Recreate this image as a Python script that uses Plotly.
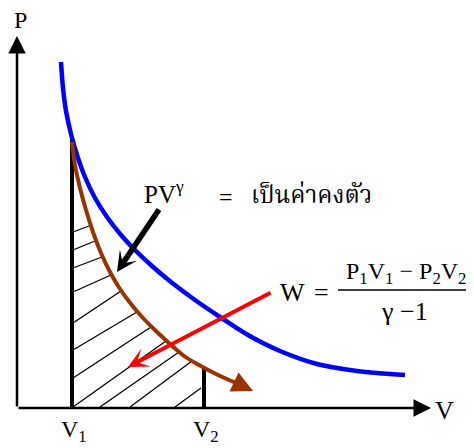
import plotly.graph_objects as go

# diagram, in picture pixels (y grows downward)
blue_x = [61, 63, 66, 71, 77, 85, 95, 107, 121, 136, 152, 171, 195, 220, 248, 280, 317, 357, 405]
blue_y = [62, 88, 111, 134, 155, 177, 198, 217, 235, 251, 266, 282, 300, 317, 335, 351, 364, 371, 375]

brown_x = [72, 75, 80, 86, 93, 101, 110, 120, 131, 143, 156, 170, 184, 199, 216, 236]
brown_y = [142, 165, 188, 210, 232, 253, 272, 289, 304, 318, 331, 344, 356, 365, 374, 383]

# hatch segments: start on V1 line / axis, end on the brown curve / V2 line
hatch_x0 = [73, 73, 73, 73, 73, 73, 73, 73, 100, 130, 175]
hatch_y0 = [232, 250, 268, 292, 323, 350, 378, 407, 407, 407, 407]
hatch_x1 = [89, 95, 102, 111, 121, 137, 151, 166, 179, 192, 201]
hatch_y1 = [226, 241, 257, 275, 291, 312, 327, 341, 352, 361, 388]

v_marks = [72, 204]
v_tops = [138, 368]
v_labels = ["V<sub>1</sub>", "V<sub>2</sub>"]

SERIF = "Liberation Serif, Times New Roman, serif"
THAI = "Noto Serif Thai, Norasi, Kinnari, Liberation Serif, serif"

# the page body keeps an 8px margin, so the plot is placed 8px in
PAD = 8
W, H = 474, 448

fig = go.Figure()

# hatching
hx, hy = [], []
for a, b, c, d in zip(hatch_x0, hatch_y0, hatch_x1, hatch_y1):
    hx += [a, c, None]
    hy += [b, d, None]
fig.add_trace(go.Scatter(x=hx, y=hy, mode="lines", line=dict(color="black", width=1.3),
                         hoverinfo="skip"))

# V1 / V2 verticals
for xv, top in zip(v_marks, v_tops):
    fig.add_trace(go.Scatter(x=[xv, xv], y=[408, top], mode="lines",
                             line=dict(color="black", width=4), hoverinfo="skip"))

# curves
fig.add_trace(go.Scatter(x=blue_x, y=blue_y, mode="lines",
                         line=dict(color="#0000FF", width=4.5, shape="spline", smoothing=1),
                         hoverinfo="skip"))
fig.add_trace(go.Scatter(x=brown_x, y=brown_y, mode="lines",
                         line=dict(color="#993300", width=4, shape="spline", smoothing=1),
                         hoverinfo="skip"))

anns = []

def arrow(x0, y0, x1, y1, color, width, head, size):
    anns.append(dict(x=x1, y=y1, ax=x0, ay=y0, xref="x", yref="y", axref="x", ayref="y",
                     text="", showarrow=True, arrowcolor=color, arrowwidth=width,
                     arrowhead=head, arrowsize=size, standoff=0, startstandoff=0))

# axes with arrowheads
arrow(17, 408, 17, 36, "black", 2.5, 2, 1.4)
arrow(17, 408, 431, 408, "black", 2.5, 2, 1.4)
# brown arrow end, black and red pointers
arrow(234, 382, 253, 391, "#993300", 4, 2, 1.05)
arrow(160, 208, 117, 272, "black", 5.5, 3, 0.62)
arrow(272, 292, 128, 367, "#FF0000", 4, 3, 0.85)

def label(x, y, t, size, family=SERIF):
    anns.append(dict(x=x, y=y, xref="x", yref="y", text=t, showarrow=False,
                     xanchor="center", yanchor="middle",
                     font=dict(family=family, size=size, color="black")))

label(20, 20, "P", 24)
label(444, 410, "V", 26)
for xv, t in zip(v_marks, v_labels):
    label(xv + 2, 431, t, 24)
label(164, 192, "PV<sup>γ</sup>", 25)
label(226, 197, "=", 24)
label(311, 196, "เป็นค่าคงตัว", 24, THAI)
label(292, 292, "W", 26)
label(321, 292, "=", 26)
label(406, 273, "P<sub>1</sub>V<sub>1</sub> − P<sub>2</sub>V<sub>2</sub>", 24)
label(404, 311, "γ −1", 26)

fig.add_shape(type="line", x0=338, x1=473, y0=290, y1=290, xref="x", yref="y",
              line=dict(color="black", width=1.5))

fig.update_layout(
    width=W - PAD, height=H - PAD, margin=dict(l=0, r=0, t=0, b=0),
    paper_bgcolor="white", plot_bgcolor="white", showlegend=False,
    annotations=anns,
    xaxis=dict(range=[PAD, W], visible=False, fixedrange=True),
    yaxis=dict(range=[H, PAD], visible=False, fixedrange=True),
)

fig.write_html("out.html")
